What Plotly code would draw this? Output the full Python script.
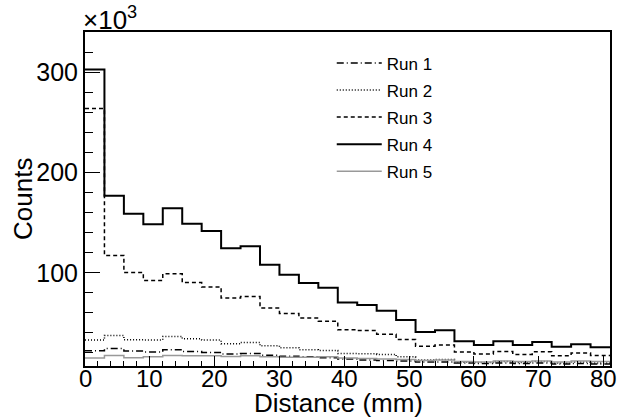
import numpy as np
import plotly.graph_objects as go

# Histogram binning (mm)
bin_width = 3
n_bins = 27
bin_edges = np.arange(0, bin_width * (n_bins + 1), bin_width)

# Axis tick labels
x_ticks = list(range(0, 81, 10))
y_ticks = [100, 200, 300]

# Counts per bin, in units of 10^3
run1 = [22.2, 24.5, 21.9, 20.9, 23.2, 21.5, 20.5, 18.9, 19.5, 17.8, 16.8, 16.2, 15.2, 13.9,
        13.0, 12.5, 12.0, 11.0, 11.0, 10.0, 9.5, 10.0, 9.5, 10.0, 9.0, 9.5, 9.0]
run2 = [32.9, 37.5, 33.2, 33.0, 36.5, 34.1, 32.9, 29.2, 30.5, 27.2, 25.2, 23.2, 22.5, 19.4,
        19.2, 18.6, 16.2, 13.0, 13.5, 11.0, 10.5, 11.5, 10.5, 11.5, 10.0, 11.0, 10.0]
run3 = [264.0, 117.4, 100.4, 92.4, 99.0, 90.4, 86.0, 74.8, 76.4, 65.0, 59.5, 55.0, 51.8, 43.3,
        42.5, 38.8, 33.5, 26.8, 27.9, 20.9, 18.9, 21.5, 18.6, 21.2, 17.2, 19.9, 17.5]
run4 = [303.0, 177.0, 159.0, 148.6, 164.6, 149.0, 141.9, 124.6, 126.6, 108.2, 98.2, 89.9, 85.2, 70.4,
        68.0, 62.2, 53.0, 41.0, 42.6, 31.6, 28.0, 31.6, 28.0, 30.9, 26.2, 28.8, 25.6]
run5 = [15.0, 17.4, 15.2, 16.2, 17.5, 17.2, 17.2, 16.5, 17.2, 16.2, 15.8, 15.8, 16.2, 15.0,
        14.5, 14.0, 13.5, 12.5, 13.0, 11.5, 11.0, 12.0, 11.5, 12.0, 11.0, 12.0, 11.5]

names = ["Run 1", "Run 2", "Run 3", "Run 4", "Run 5"]
series = [run1, run2, run3, run4, run5]
styles = [
    dict(color="black", width=1.5, dash="7px,3px,1px,3px"),
    dict(color="black", width=1.5, dash="1px,2px"),
    dict(color="black", width=1.5, dash="4px,3px"),
    dict(color="black", width=2),
    dict(color="#999999", width=1.5),
]

FONT = "Liberation Sans, Arial, Helvetica, sans-serif"

fig = go.Figure()
for name, vals, st in zip(names, series, styles):
    y = list(vals) + [vals[-1]]
    fig.add_trace(go.Scatter(
        x=bin_edges, y=y, mode="lines", name=name,
        line=dict(shape="hv", **st), legendgroup=name,
    ))

annotations = [
    dict(text="×10<sup>3</sup>", xref="paper", yref="paper", x=0, y=1,
         xanchor="left", yanchor="bottom", showarrow=False,
         font=dict(family=FONT, size=26, color="black"), xshift=-4, yshift=-5),
    dict(text="Distance (mm)", xref="paper", yref="paper", x=0.482, y=0,
         xanchor="center", yanchor="middle", showarrow=False,
         font=dict(family=FONT, size=26, color="black"), yshift=-37),
    dict(text="Counts", xref="paper", yref="paper", x=0, y=0.5, textangle=-90,
         xanchor="center", yanchor="middle", showarrow=False,
         font=dict(family=FONT, size=26, color="black"), xshift=-62),
]
for t in x_ticks:
    annotations.append(dict(
        text=str(t), xref="x", yref="paper", x=t, y=0,
        xanchor="center", yanchor="middle", showarrow=False,
        font=dict(family=FONT, size=24, color="black"), yshift=-12,
    ))

fig.update_layout(
    width=618, height=418,
    margin=dict(l=85, r=8, t=32, b=52, autoexpand=False),
    paper_bgcolor="white", plot_bgcolor="white",
    font=dict(family=FONT, color="black", size=24),
    showlegend=True,
    legend=dict(
        x=0.47, y=0.96, xanchor="left", yanchor="top",
        bgcolor="rgba(0,0,0,0)", borderwidth=0,
        font=dict(family=FONT, size=17, color="black"),
        tracegroupgap=2, itemwidth=45,
    ),
    xaxis=dict(
        range=[0, 81], tickmode="array", tickvals=x_ticks, showticklabels=False,
        ticks="inside", ticklen=10, tickwidth=1, tickcolor="black",
        minor=dict(dtick=2, tick0=0, ticks="inside", ticklen=5, tickcolor="black", tickwidth=1),
        showline=True, linecolor="black", linewidth=2, mirror=True,
        showgrid=False, zeroline=False, automargin=False,
    ),
    yaxis=dict(
        range=[7, 340.5], tickmode="array", tickvals=y_ticks,
        ticks="inside", ticklen=15, tickwidth=1, tickcolor="black",
        minor=dict(dtick=20, tick0=0, ticks="inside", ticklen=7.5, tickcolor="black", tickwidth=1),
        showline=True, linecolor="black", linewidth=2, mirror=True,
        showgrid=False, zeroline=False, automargin=False,
        tickfont=dict(size=25),
    ),
    annotations=annotations,
)

fig.write_html(
    "out.html",
    config={"displayModeBar": False},
    post_script="document.body.style.margin='0';document.body.style.padding='0';document.body.style.overflow='hidden';",
)
